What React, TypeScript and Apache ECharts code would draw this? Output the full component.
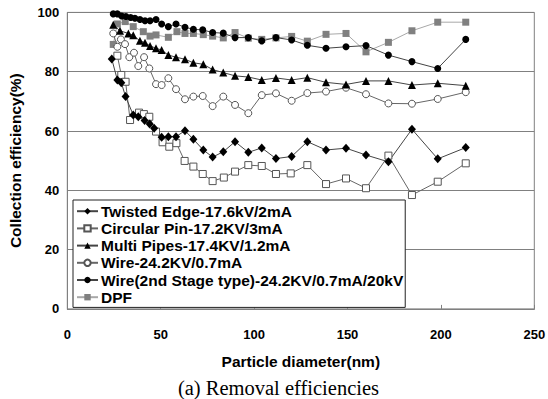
import React, { useEffect, useRef } from "react";
import * as echarts from "echarts";

const xTicks = [0, 50, 100, 150, 200, 250];
const yTicks = [0, 20, 40, 60, 80, 100];

const seriesNames = [
  "Twisted Edge-17.6kV/2mA",
  "Circular Pin-17.2KV/3mA",
  "Multi Pipes-17.4KV/1.2mA",
  "Wire-24.2KV/0.7mA",
  "Wire(2nd Stage type)-24.2KV/0.7mA/20kV",
  "DPF",
];

const teX = [23.8, 26.8, 28.9, 31.2, 35.3, 38.0, 41.4, 44.1, 46.5, 50.5, 54.1, 58.2, 63.0, 67.5, 72.8, 77.8, 83.5, 89.8, 96.9, 104.1, 111.7, 120.1, 128.5, 138.5, 149.2, 159.9, 171.9, 184.5, 198.3, 213.3];
const teY = [84.3, 77.2, 76.3, 71.6, 65.4, 64.8, 63.5, 62.4, 60.9, 57.9, 58.1, 58.1, 60.1, 57.2, 53.6, 51.2, 53.0, 56.4, 52.8, 54.3, 50.7, 51.4, 56.4, 53.6, 54.2, 51.9, 49.6, 60.6, 50.6, 54.4];

const cpX = [26.8, 28.9, 31.2, 33.6, 38.4, 41.0, 43.9, 47.5, 51.0, 54.6, 58.4, 62.8, 67.5, 72.5, 77.8, 83.8, 89.8, 96.9, 104.1, 111.7, 119.6, 128.5, 138.5, 149.2, 159.9, 171.9, 184.5, 198.3, 213.3];
const cpY = [85.4, 78.9, 76.6, 63.7, 66.2, 65.7, 64.8, 59.8, 56.2, 54.7, 55.9, 49.9, 48.0, 45.5, 43.1, 44.3, 46.3, 48.5, 48.2, 45.5, 45.7, 48.5, 42.1, 44.0, 40.7, 51.7, 38.4, 42.9, 49.1];

const mpX = [24.6, 28.2, 32.7, 35.3, 38.9, 41.6, 44.3, 47.5, 50.5, 54.1, 58.2, 63.0, 67.5, 72.8, 77.8, 83.5, 89.8, 96.9, 104.1, 111.7, 120.1, 128.5, 138.5, 149.2, 159.9, 171.9, 184.5, 198.3, 213.3];
const mpY = [95.8, 93.8, 92.9, 92.3, 90.4, 89.8, 88.7, 87.9, 87.3, 85.6, 84.9, 84.2, 83.0, 82.5, 80.7, 79.7, 78.6, 78.2, 77.2, 77.9, 77.2, 78.0, 76.4, 75.7, 76.9, 76.9, 75.5, 76.1, 75.3];

const wX = [24.6, 26.8, 28.7, 30.9, 33.2, 35.7, 38.0, 41.1, 43.9, 47.5, 50.5, 54.1, 58.2, 63.0, 67.5, 72.5, 77.8, 83.5, 89.8, 96.9, 104.1, 111.7, 120.1, 128.5, 138.5, 149.2, 159.9, 171.9, 184.5, 198.3, 213.3];
const wY = [92.9, 88.4, 90.9, 89.3, 84.9, 86.4, 81.9, 84.9, 81.1, 75.8, 75.5, 77.8, 74.1, 70.7, 71.6, 71.8, 68.4, 71.6, 68.8, 66.0, 72.1, 72.7, 70.2, 72.8, 73.3, 74.6, 72.4, 69.3, 69.2, 70.8, 73.1];

const w2X = [24.6, 26.8, 29.1, 31.4, 33.9, 36.2, 38.9, 41.6, 44.3, 47.5, 50.5, 54.1, 58.2, 63.0, 67.5, 72.5, 77.8, 83.5, 89.8, 96.9, 104.1, 111.7, 120.1, 128.5, 138.5, 149.2, 159.9, 171.9, 184.5, 198.3, 213.3];
const w2Y = [99.5, 99.5, 98.8, 98.6, 98.3, 98.0, 97.6, 97.2, 97.2, 97.6, 96.1, 95.2, 96.1, 95.0, 94.3, 94.1, 93.2, 93.0, 91.5, 91.5, 90.4, 91.5, 90.7, 88.9, 87.9, 88.4, 88.8, 85.6, 83.4, 81.1, 90.9];

const dpfX = [24.6, 26.8, 31.0, 35.3, 40.7, 44.3, 47.5, 54.1, 58.7, 63.0, 67.5, 72.8, 77.8, 83.5, 89.8, 96.9, 104.1, 111.7, 120.1, 128.5, 138.5, 149.2, 159.9, 171.9, 184.5, 198.3, 213.3];
const dpfY = [89.2, 96.1, 96.9, 95.2, 93.5, 92.0, 92.4, 91.6, 93.5, 92.9, 92.9, 92.5, 92.0, 91.4, 93.2, 91.3, 90.9, 91.4, 91.9, 90.3, 92.6, 92.9, 86.7, 89.9, 93.8, 96.7, 96.7];

const FONT = "'Liberation Sans', Arial, sans-serif";

function zip(xs: number[], ys: number[]) {
  return xs.map((x, i) => [x, ys[i]]);
}

function mk(
  name: string,
  xs: number[],
  ys: number[],
  symbol: string,
  size: number | number[],
  fill: string,
  border: string,
  bw: number,
  lineColor: string
) {
  return {
    type: "line",
    name,
    data: zip(xs, ys),
    symbol,
    symbolSize: size,
    showAllSymbol: true,
    itemStyle: { color: fill, borderColor: border, borderWidth: bw },
    lineStyle: { color: lineColor, width: 1 },
    emphasis: { disabled: true },
  };
}

export default function App() {
  const ref = useRef<HTMLDivElement>(null);
  useEffect(() => {
    if (!ref.current) return;
    const chart = echarts.init(ref.current, undefined, { renderer: "svg" });
    chart.setOption({
      animation: false,
      backgroundColor: "#fff",
      textStyle: { fontFamily: FONT },
      grid: {
        left: 67.3,
        top: 12.4,
        width: 467,
        height: 296.5,
        show: true,
        borderColor: "#808080",
        borderWidth: 1,
        backgroundColor: "#fff",
        containLabel: false,
        outerBoundsMode: "none",
      },
      xAxis: {
        type: "value",
        min: xTicks[0],
        max: xTicks[xTicks.length - 1],
        interval: 50,
        name: "Particle diameter(nm)",
        nameLocation: "middle",
        nameGap: 45,
        nameTextStyle: { fontSize: 15.5, fontWeight: "bold", color: "#000", fontFamily: FONT },
        axisLine: { lineStyle: { color: "#808080" } },
        axisTick: { inside: true, length: 4, lineStyle: { color: "#808080" } },
        axisLabel: {
          margin: 19,
          fontSize: 13,
          fontWeight: "bold",
          color: "#000",
          fontFamily: FONT,
          hideOverlap: false,
          alignMinLabel: "center",
          alignMaxLabel: "center",
        },
        splitLine: { show: false },
      },
      yAxis: {
        type: "value",
        min: yTicks[0],
        max: yTicks[yTicks.length - 1],
        interval: 20,
        name: "Collection efficiency(%)",
        nameLocation: "middle",
        nameGap: 44,
        nameTextStyle: { fontSize: 15.5, fontWeight: "bold", color: "#000", fontFamily: FONT },
        axisLine: { show: true, lineStyle: { color: "#808080" } },
        axisTick: { show: false },
        axisLabel: { margin: 8, fontSize: 13, fontWeight: "bold", color: "#000", fontFamily: FONT },
        splitLine: { show: true, lineStyle: { color: "#808080", width: 1 } },
      },
      legend: {
        show: true,
        orient: "vertical",
        left: 73,
        top: 200,
        backgroundColor: "#fff",
        borderColor: "#222",
        borderWidth: 1,
        padding: [3, 2, 2, 3],
        itemWidth: 21,
        itemHeight: 8,
        itemGap: 0.8,
        textStyle: {
          fontSize: 15.5,
          fontWeight: "bold",
          color: "#000",
          fontFamily: FONT,
          lineHeight: 16.4,
          padding: [0, 0, 0, -2],
        },
        data: seriesNames,
      },
      series: [
        mk(seriesNames[5], dpfX, dpfY, "rect", 7, "#808080", "#808080", 0, "#a8a8a8"),
        mk(seriesNames[1], cpX, cpY, "rect", 7, "#fff", "#555", 1, "#666"),
        mk(seriesNames[3], wX, wY, "circle", 7, "#fff", "#555", 1, "#666"),
        mk(seriesNames[0], teX, teY, "diamond", [8, 9], "#000", "#000", 0, "#444"),
        mk(seriesNames[2], mpX, mpY, "triangle", 8, "#000", "#000", 0, "#444"),
        mk(seriesNames[4], w2X, w2Y, "circle", 7, "#000", "#000", 0, "#444"),
      ],
      graphic: [
        {
          type: "text",
          x: 379,
          y: 377,
          style: {
            text: "(a) Removal efficiencies",
            fontSize: 20.5,
            fontFamily: "'Liberation Serif', 'Times New Roman', serif",
            fill: "#000",
            textAlign: "right",
            textVerticalAlign: "top",
          },
        },
      ],
    });
    return () => chart.dispose();
  }, []);
  return <div ref={ref} style={{ width: 548, height: 399, position: "absolute", left: 0, top: 0 }} />;
}
